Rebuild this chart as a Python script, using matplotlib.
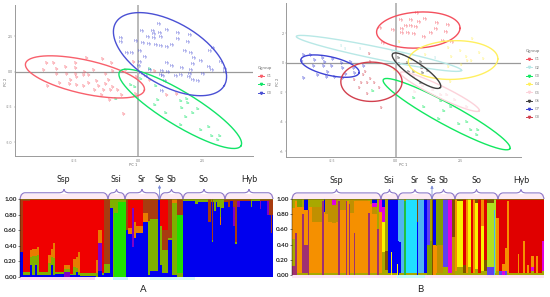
import numpy as np
import matplotlib
matplotlib.use("Agg")
import matplotlib.pyplot as plt
from matplotlib.lines import Line2D
from matplotlib.path import Path
from matplotlib.patches import PathPatch

FIG_W, FIG_H = 550.0, 297.0
plt.rcParams['font.family'] = ['Lato', 'DejaVu Sans']

# ---- PCA scores, panel A
a_g1_x = [-3.54,-3.27,-3.65,-3.15,-2.80,-2.42,-2.41,-3.18,-2.76,-2.43,-2.06,-1.72,-2.11,-1.90,-2.38,-2.60,-3.05,-2.67,-2.37,-2.11,-1.90,-1.60,-1.15,-1.26,-0.99,-1.00,-1.38,-1.98,-3.53,-1.69,-1.52,-1.26,-0.98,-1.34,-1.05,-0.78,-1.39,-1.08,-0.64,-0.09,-0.56,-0.14,-0.47,0.48,0.66,1.15,1.52,-0.03]
a_g1_y = [0.57,0.57,0.14,0.21,0.33,0.59,0.26,-0.17,-0.19,-0.14,0.00,0.09,-0.26,-0.26,-0.40,-0.61,-0.83,-0.90,-0.92,-0.99,-0.78,-0.68,-0.57,-0.19,0.07,0.61,0.92,0.94,-1.01,-1.30,-1.04,-0.85,-1.06,-1.34,-1.34,-1.34,-1.67,-2.03,-1.63,-1.60,-3.02,0.71,0.09,-0.61,0.07,-1.63,-1.58,-0.42]
a_g2_x = [0.14,-0.27,-0.13,0.70,-0.86,0.78,0.66,1.08,1.68,1.93,1.95,1.73,2.36,2.14,1.89,1.68,2.45,2.77,2.89,3.19,3.13,0.47]
a_g2_y = [-0.54,-0.92,-1.06,-0.99,-1.91,-2.05,-2.38,-2.97,-2.10,-1.91,-2.26,-2.57,-2.67,-2.95,-3.25,-3.82,-4.15,-3.94,-4.53,-4.55,-4.88,0.21]
a_g3_x = [0.82,0.18,0.61,1.15,0.87,0.64,1.58,2.02,0.40,0.64,0.92,1.55,-0.64,-0.65,-0.09,0.22,0.43,0.69,0.92,1.12,1.34,1.94,2.94,2.81,1.84,2.07,-0.44,-0.21,0.10,0.27,2.20,2.47,3.24,0.07,0.04,1.15,1.33,2.16,1.73,2.76,2.89,3.39,3.39,2.06,2.04,2.55,0.14,0.48,0.95,1.18,0.91,1.00,1.05,1.50,1.69,1.99,2.16,2.36,0.95,0.31]
a_g3_y = [3.35,2.85,2.85,2.92,2.76,2.64,2.71,2.57,2.43,2.38,2.43,2.31,2.38,2.10,2.19,2.03,1.98,1.91,1.79,1.77,1.86,2.08,1.65,1.44,1.46,1.34,1.34,1.32,1.42,1.04,0.99,0.78,0.64,0.66,0.40,0.57,0.40,0.50,0.28,0.33,0.12,0.21,-0.05,0.09,-0.19,-0.17,-0.07,0.14,0.07,0.00,-0.26,-0.31,-0.66,-0.31,-0.24,-0.42,-0.57,-0.66,-1.37,-0.31]

# ---- PCA scores, panel B
b_g1_x = [0.84,0.19,0.58,0.91,1.15,1.59,2.01,0.39,0.61,0.80,1.55,-0.63,-0.12,0.26,0.23,0.48,0.70,1.10,1.36,1.96,-0.48,1.85,2.18]
b_g1_y = [3.34,2.87,2.87,2.78,2.93,2.71,2.57,2.48,2.48,2.44,2.30,2.33,2.19,2.28,2.03,2.03,1.92,1.76,1.99,2.08,1.35,1.47,1.42]
b_g2_x = [-2.10,-1.98,-1.37,-0.14,1.52,0.28]
b_g2_y = [1.15,0.95,0.90,0.70,0.29,0.52]
b_g3_x = [-0.87,0.69,1.10,1.74,2.16,1.88,1.68,2.46,2.77,2.91,3.20,3.15]
b_g3_y = [-1.94,-2.42,-3.00,-2.60,-3.02,-3.30,-3.84,-4.18,-4.00,-4.58,-4.58,-4.92]
b_g4_x = [0.13,2.97,2.03,2.50,3.26,1.15,0.61,2.16,2.75,2.78,3.39,2.94,2.55,2.03,2.14,-0.04]
b_g4_y = [1.42,1.63,0.97,0.79,0.63,0.52,0.18,0.41,0.36,0.14,0.23,0.14,-0.16,-0.27,-1.29,-0.50]
b_g5_x = [0.71,1.06,0.74,1.77,1.97,1.45,2.29,2.75,1.00]
b_g5_y = [-0.99,-1.58,-1.96,-2.19,-2.19,-1.85,-2.53,-2.98,-0.27]
b_g6_x = [0.12,0.17,0.45,0.96,0.51,0.70,1.06,1.24,0.96,1.00]
b_g6_y = [0.29,-0.11,-0.05,0.07,-0.61,-0.63,-0.72,-0.54,-1.40,-0.38]
b_g7_x = [-3.56,-3.28,-2.82,-2.44,-3.63,-3.15,-2.76,-2.09,-1.75,-3.19,-2.80,-2.47,-2.05,-2.63,-1.59,-1.92,-3.04,-2.69,-2.37,-2.05,-3.56,-1.23,-1.62]
b_g7_y = [0.52,0.52,0.29,0.23,0.14,0.18,0.02,-0.05,0.07,-0.20,-0.23,-0.20,-0.38,-0.61,-0.72,-0.77,-0.84,-0.95,-0.95,-1.06,-1.04,-0.20,-0.38]
b_g8_x = [-1.01,-0.97,-1.17,-1.27,-0.98,-1.59,-1.33,-1.08,-0.82,-1.40,-0.65,-1.10,-0.57,1.02]
b_g8_y = [0.59,0.07,-0.61,-0.84,-1.11,-1.17,-1.40,-1.40,-1.40,-1.74,-1.69,-2.12,-3.05,-0.34]

a_groups = ["G1", "G2", "G3"]
a_colors = ["#f8606c", "#12e468", "#4a50d4"]
a_x = [a_g1_x, a_g2_x, a_g3_x]
a_y = [a_g1_y, a_g2_y, a_g3_y]
# centre, then the two semi-axes of each ellipse
a_ell = [(-2.07,-0.38, 2.32,-0.94, 0.14,1.16),
         (1.65,-2.64, 2.37,-2.62, 0.34,1.01),
         (1.25,1.23, 2.12,-2.22, 0.62,1.93)]
a_tag = ["Sp", "So", "Hy"]

b_groups = ["G1", "G2", "G3", "G4", "G5", "G6", "G7", "G8"]
b_colors = ["#f4505e", "#b8e8e6", "#12e860", "#fff060", "#fcd2da", "#404040", "#3c42d4", "#d2404e"]
b_x = [b_g1_x, b_g2_x, b_g3_x, b_g4_x, b_g5_x, b_g6_x, b_g7_x, b_g8_x]
b_y = [b_g1_y, b_g2_y, b_g3_y, b_g4_y, b_g5_y, b_g6_y, b_g7_y, b_g8_y]
b_ell = [(0.87,2.21, 1.62,0.11, 0.04,1.22),
         (-0.66,0.63, 3.21,-1.15, 0.05,0.40),
         (1.97,-3.48, 2.46,-2.33, 0.19,0.63),
         (2.22,0.18, 1.74,0.07, 0.03,1.31),
         (1.71,-1.96, 1.53,-1.29, 0.10,0.36),
         (0.80,-0.54, 0.93,-1.13, 0.16,0.41),
         (-2.56,-0.23, 1.13,-0.45, 0.08,0.61),
         (-0.95,-1.29, 1.19,0.00, 0.00,1.33)]
b_tag = ["Hy", "Si", "So", "Sr", "Sb", "Se", "Sp", "Sr"]

# ---- STRUCTURE membership, runs of individuals: (count, [(cluster, share) bottom to top])
U,P,G,O,N,R,B = "#0000ee","#8000c8","#20e000","#80b000","#e87c00","#f00000","#a83c10"
a_blocks = [
 (3,[(U,.32),(B,.68)]), (7,[(U,.02),(O,.04),(R,.92),(B,.02)]), (2,[(U,.16),(O,.10),(N,.09),(R,.65)]),
 (3,[(U,.02),(O,.25),(N,.09),(R,.64)]), (2,[(U,.16),(O,.11),(N,.09),(R,.64)]), (2,[(U,.02),(O,.26),(N,.10),(R,.62)]),
 (9,[(U,.03),(O,.03),(R,.94)]), (3,[(U,.03),(O,.15),(N,.10),(R,.72)]), (2,[(U,.16),(O,.10),(N,.10),(R,.64)]),
 (2,[(U,.03),(O,.22),(N,.18),(R,.57)]), (9,[(U,.04),(O,.02),(R,.94)]), (6,[(P,.06),(O,.04),(N,.06),(R,.84)]),
 (3,[(U,.02),(O,.02),(R,.96)]), (3,[(U,.03),(O,.10),(N,.10),(R,.77)]), (2,[(U,.06),(O,.05),(N,.15),(R,.74)]),
 (2,[(U,.02),(O,.05),(N,.25),(R,.68)]), (16,[(U,.01),(O,.04),(R,.95)]), (2,[(O,.05),(N,.17),(R,.78)]),
 (4,[(U,.08),(P,.35),(N,.17),(R,.40)]), (2,[(U,.02),(O,.03),(R,.95)]), (6,[(U,.05),(O,.12),(B,.83)]),
 (3,[(U,.88),(O,.12)]), (1,[(O,1)]), (4,[(G,.82),(O,.18)]), (8,[(G,.96),(O,.04)]),
 (2,[(U,.60),(B,.40)]), (4,[(U,.55),(N,.08),(R,.37)]), (2,[(U,.38),(P,.50),(R,.12)]), (2,[(U,.50),(N,.20),(R,.30)]),
 (7,[(U,.56),(N,.10),(R,.34)]), (5,[(U,.70),(N,.12),(B,.18)]), (2,[(U,.02),(O,.70),(B,.28)]), (8,[(U,.08),(O,.67),(B,.25)]),
 (2,[(U,1)]), (2,[(U,.15),(O,.50),(R,.35)]), (6,[(U,.05),(O,.30),(B,.25),(R,.40)]), (4,[(U,.48),(O,.02),(B,.50)]),
 (5,[(U,.02),(O,.93),(N,.05)]), (6,[(O,.05),(G,.75),(B,.20)]),
 (12,[(U,.97),(O,.03)]), (3,[(U,.93),(O,.07)]), (10,[(U,.96),(O,.04)]), (3,[(U,.70),(B,.30)]), (1,[(U,.96),(O,.04)]),
 (1,[(U,.45),(O,.03),(B,.52)]), (1,[(U,.96),(O,.04)]), (2,[(U,.85),(O,.15)]), (1,[(U,.96),(O,.04)]), (3,[(U,.90),(O,.10)]),
 (1,[(U,.67),(N,.10),(O,.23)]), (3,[(U,.88),(O,.12)]), (4,[(U,.96),(B,.04)]), (2,[(U,.90),(B,.10)]), (3,[(U,.97),(B,.03)]),
 (2,[(U,.65),(P,.25),(B,.10)]), (2,[(U,.42),(O,.03),(B,.55)]), (3,[(U,.90),(P,.07),(B,.03)]), (11,[(U,.97),(B,.03)]),
 (1,[(U,.90),(O,.10)]), (8,[(U,.97),(O,.03)]), (1,[(U,.87),(P,.10),(B,.03)]), (6,[(U,.98),(B,.02)]), (2,[(U,.80),(P,.17),(B,.03)]),
 (2,[(U,.80),(B,.20)]), (1,[(U,.57),(B,.43)]), (1,[(U,.80),(B,.20)]),
]

M,N2,T,V,C,L,K,E,I,F,W2,H2,Z,B2,O2 = "#a03070","#f59000","#c09000","#0000f5","#20e0ff","#50b4f0","#f8f400","#e00000","#b0e020","#e000e0","#6040f0","#80a000","#20c040","#805000","#a8a800"
b_blocks = [
 (3,[(M,.12),(O2,.36),(N2,.40),(O2,.12)]), (2,[(M,.55),(N2,.43),(O2,.02)]), (5,[(O2,.02),(N2,.88),(H2,.10)]),
 (2,[(O2,.03),(M,.77),(N2,.10),(O2,.10)]), (4,[(O2,.03),(M,.37),(N2,.45),(V,.15)]), (1,[(M,.85),(O2,.15)]),
 (3,[(O2,.03),(N2,.87),(O2,.10)]), (10,[(O2,.03),(N2,.67),(T,.20),(O2,.10)]), (2,[(M,.97),(O2,.03)]),
 (1,[(O2,.03),(N2,.80),(V,.17)]), (3,[(O2,.03),(N2,.77),(T,.20)]), (4,[(O2,.03),(N2,.67),(T,.30)]),
 (4,[(O2,.03),(N2,.65),(T,.24),(F,.08)]), (2,[(O2,.03),(N2,.67),(T,.30)]), (2,[(M,.97),(O2,.03)]),
 (6,[(O2,.03),(N2,.82),(T,.15)]), (1,[(M,.97),(O2,.03)]), (2,[(N2,.97),(O2,.03)]), (1,[(M,.93),(O2,.07)]),
 (4,[(O2,.03),(N2,.79),(T,.18)]), (1,[(M,.55),(N2,.42),(O2,.03)]), (13,[(O2,.03),(N2,.94),(T,.03)]),
 (2,[(M,.82),(N2,.15),(O2,.03)]), (2,[(O2,.03),(N2,.90),(O2,.07)]), (5,[(O2,.03),(N2,.77),(T,.10),(F,.05),(V,.05)]),
 (2,[(M,.60),(O2,.40)]), (3,[(O2,.03),(N2,.80),(F,.17)]), (3,[(O2,.30),(K,.40),(F,.20),(V,.10)]),
 (3,[(O2,.07),(B2,.25),(O2,.68)]), (3,[(O2,.03),(V,.97)]), (1,[(K,.30),(V,.70)]), (5,[(O2,.03),(V,.97)]),
 (1,[(K,.15),(V,.85)]), (1,[(V,.45),(L,.55)]), (2,[(O2,.03),(V,.40),(L,.57)]), (3,[(O2,.03),(L,.97)]),
 (2,[(Z,.97),(O2,.03)]), (11,[(O2,.03),(C,.97)]), (1,[(V,.70),(B2,.30)]), (6,[(O2,.03),(L,.97)]), (3,[(O2,.03),(V,.97)]),
 (3,[(H2,.40),(W2,.60)]), (2,[(H2,.45),(O2,.55)]), (1,[(B2,1)]), (3,[(N2,.40),(V,.60)]), (1,[(O2,.03),(N2,.35),(H2,.62)]),
 (6,[(O2,.03),(T,.37),(H2,.60)]), (5,[(O2,.10),(W2,.90)]), (4,[(O2,.03),(F,.97)]), (3,[(T,.50),(B2,.50)]),
 (2,[(O2,.05),(N2,.95)]), (6,[(O2,.10),(K,.87),(B2,.03)]), (3,[(O2,.03),(B2,.10),(E,.87)]), (2,[(O2,.03),(N2,.97)]),
 (3,[(O2,.10),(K,.90)]), (2,[(O2,.03),(E,.97)]), (2,[(O2,.03),(N2,.97)]), (3,[(O2,.08),(K,.87),(B2,.05)]),
 (3,[(O2,.03),(E,.97)]), (3,[(O2,.05),(K,.60),(N2,.35)]), (3,[(O2,.05),(B2,.15),(E,.80)]), (7,[(W2,.10),(I,.85),(B2,.05)]),
 (1,[(L,.85),(I,.15)]), (1,[(O2,.03),(I,.97)]), (3,[(O2,.05),(N2,.70),(E,.25)]), (3,[(W2,.05),(E,.95)]),
 (3,[(F,.05),(N2,.10),(E,.85)]), (2,[(W2,.05),(N2,.30),(E,.65)]), (2,[(O2,.03),(N2,.94),(E,.03)]), (9,[(O2,.03),(E,.97)]),
 (1,[(O2,.03),(N2,.24),(E,.73)]), (4,[(O2,.02),(E,.98)]), (2,[(O2,.02),(N2,.43),(E,.55)]), (2,[(O2,.02),(E,.98)]),
 (2,[(O2,.03),(N2,.10),(E,.87)]), (2,[(O2,.03),(E,.97)]), (3,[(O2,.05),(F,.05),(N2,.15),(E,.75)]), (2,[(O2,.03),(E,.97)]),
 (2,[(O2,.03),(N2,.22),(E,.75)]), (4,[(O2,.03),(E,.97)]), (2,[(O2,.05),(F,.40),(E,.55)]),
]

species = ["Ssp", "Ssi", "Sr", "Sb", "So", "Hyb"]
a_bounds = [(0,88), (88,105), (105,139), (140,163), (163,205), (205,253)]
b_bounds = [(0,89), (89,106), (106,140), (140,163), (163,206), (206,252)]
a_se = 139.5
b_se = 140.0
# pale bands under the bars
a_strip = [(0,75,"#fbd6f4"), (93,108,"#c8f4fa"), (130,175,"#d8f6fa")]
b_strip = [(0,105,"#fbe4f4"), (105,133,"#c8f8fa"), (133,163,"#fbe4f4"), (163,252,"#fde4f0")]


def make_ax(x0, y0, x1, y1):
    # pixel box, y measured from the top like the picture
    return fig.add_axes([x0 / FIG_W, 1 - y1 / FIG_H, (x1 - x0) / FIG_W, (y1 - y0) / FIG_H])


def draw_pca(ax, xs, ys, ells, colors, tags, groups, xlim, ylim, yticks, legend_at, label_xy):
    ax.set_xlim(xlim)
    ax.set_ylim(ylim)
    ax.axhline(0, color="#9a9a9a", lw=0.9, zorder=1)
    ax.axvline(0, color="#b4b4b4", lw=1.3, zorder=1)
    for s in ["top", "right"]:
        ax.spines[s].set_visible(False)
    for s in ["left", "bottom"]:
        ax.spines[s].set_color("#9a9a9a")
        ax.spines[s].set_linewidth(0.7)
    ax.set_xticks([-2.5, 0, 2.5], ["-2.5", "0.0", "2.5"])
    ax.set_yticks(yticks, [str(t) for t in yticks])
    ax.tick_params(length=1, width=0.3, labelsize=2.6, pad=0.8, colors="#808080")
    t = np.linspace(0, 2 * np.pi, 200)
    for i in range(len(xs)):
        for px, py in zip(xs[i], ys[i]):
            ax.text(px, py, tags[i], fontsize=2.8, color=colors[i], ha="center", va="center", zorder=3)
        c = ells[i]
        ax.plot(c[0] + c[2] * np.cos(t) + c[4] * np.sin(t),
                c[1] + c[3] * np.cos(t) + c[5] * np.sin(t),
                color=colors[i], lw=1.0, zorder=4)
    handles = [Line2D([], [], color=colors[i], lw=0.7, marker="v", ms=1.6) for i in range(len(groups))]
    leg = ax.legend(handles, groups, title="Ggroup", fontsize=2.7, title_fontsize=3.2, frameon=False,
                    loc="upper left", bbox_to_anchor=(legend_at[0] / FIG_W, 1 - legend_at[1] / FIG_H),
                    bbox_transform=fig.transFigure, labelspacing=1.15, handlelength=1.6,
                    handletextpad=0.7, borderpad=0, borderaxespad=0)
    leg.get_title().set_color("#707070")
    for txt in leg.get_texts():
        txt.set_color("#808080")
    fig.text(label_xy[0] / FIG_W, 1 - 165.5 / FIG_H, "PC 1", fontsize=2.8, color="#707070", ha="center", va="center")
    fig.text(label_xy[1] / FIG_W, 1 - 82 / FIG_H, "PC 2", fontsize=2.8, color="#707070", ha="center", va="center", rotation=90)


def draw_structure(ax, blocks, strip):
    left = 0
    for n, parts in blocks:
        bottom = 0
        for col, share in parts:
            ax.bar(left, share, width=n, bottom=bottom, color=col, align="edge", linewidth=0)
            bottom += share
        left += n
    ax.set_xlim(0, left)
    ax.set_ylim(0, 1)
    ax.axhline(1, color="#7a7a10", lw=0.5)
    tr = ax.get_xaxis_transform()
    for x0, x1, col in strip:
        ax.fill_between([x0, x1], -0.035, 0, transform=tr, color=col, lw=0, clip_on=False)
    ax.set_xticks([])
    ax.set_yticks([0, .2, .4, .6, .8, 1.0], ["0.00", "0.20", "0.40", "0.60", "0.80", "1.00"])
    ax.tick_params(length=1.5, width=0.4, labelsize=4.6, pad=0.8, colors="#222222")
    for lab in ax.get_yticklabels():
        lab.set_fontweight("bold")
    for s in ["top", "right", "bottom"]:
        ax.spines[s].set_visible(False)
    ax.spines["left"].set_linewidth(0.3)


def brace(ax, x0, x1):
    # curly bracket sitting on top of the bars, y is in axes units
    tr = ax.get_xaxis_transform()
    mid = (x0 + x1) / 2.0
    r = min(5.0, (x1 - x0) / 4.0)
    flat, peak = 1.08, 1.125
    verts = [(x0, 1.0), (x0 + r * .2, flat), (x0 + r, flat), (mid - r, flat), (mid - r * .1, flat), (mid, peak),
             (mid + r * .1, flat), (mid + r, flat), (x1 - r, flat), (x1 - r * .2, flat), (x1, 1.0)]
    codes = [Path.MOVETO, Path.CURVE3, Path.CURVE3, Path.LINETO, Path.CURVE3, Path.CURVE3,
             Path.CURVE3, Path.CURVE3, Path.LINETO, Path.CURVE3, Path.CURVE3]
    ax.add_patch(PathPatch(Path(verts, codes), transform=tr, fill=False, clip_on=False, edgecolor="#8c78c8", lw=0.8))
    ax.fill_between([x0, x1], 1.0, 1.07, transform=tr, color="#fdeaf4", lw=0, clip_on=False, zorder=0)
    return mid


def species_labels(ax, bounds, se_x):
    tr = ax.get_xaxis_transform()
    for name, (x0, x1) in zip(species, bounds):
        mid = brace(ax, x0, x1)
        ax.text(mid, 1.245, name, transform=tr, fontsize=6.4, ha="center", va="center", color="#222222", clip_on=False)
    ax.text(se_x, 1.245, "Se", transform=tr, fontsize=6.4, ha="center", va="center", color="#222222", clip_on=False)
    ax.annotate("", xy=(se_x, 1.18), xytext=(se_x, 1.0), xycoords=tr, textcoords=tr,
                arrowprops=dict(arrowstyle="-|>", color="#7f8fd8", lw=0.6, mutation_scale=4, shrinkA=0, shrinkB=0))


fig = plt.figure(figsize=(FIG_W / 100, FIG_H / 100), dpi=100)

ax1 = make_ax(15, 5, 253, 156)
draw_pca(ax1, a_x, a_y, a_ell, a_colors, a_tag, a_groups, (-4.80, 4.49), (-5.98, 4.71),
         [2.5, 0.0, -2.5, -5.0], (258, 66), (133, 6))

ax2 = make_ax(286, 3, 521, 157)
draw_pca(ax2, b_x, b_y, b_ell, b_colors, b_tag, b_groups, (-4.27, 4.86), (-6.38, 4.04),
         [2, 0, -2, -4, -6], (526, 49), (403, 278))

ax3 = make_ax(20, 199, 273, 277)
draw_structure(ax3, a_blocks, a_strip)
species_labels(ax3, a_bounds, a_se)

ax4 = make_ax(292, 199, 544, 275)
draw_structure(ax4, b_blocks, b_strip)
species_labels(ax4, b_bounds, b_se)

fig.text(143 / FIG_W, 1 - 289 / FIG_H, "A", fontsize=7, ha="center", va="center", color="#222222")
fig.text(420 / FIG_W, 1 - 289 / FIG_H, "B", fontsize=7, ha="center", va="center", color="#222222")

fig.savefig("out.png", dpi=100)
